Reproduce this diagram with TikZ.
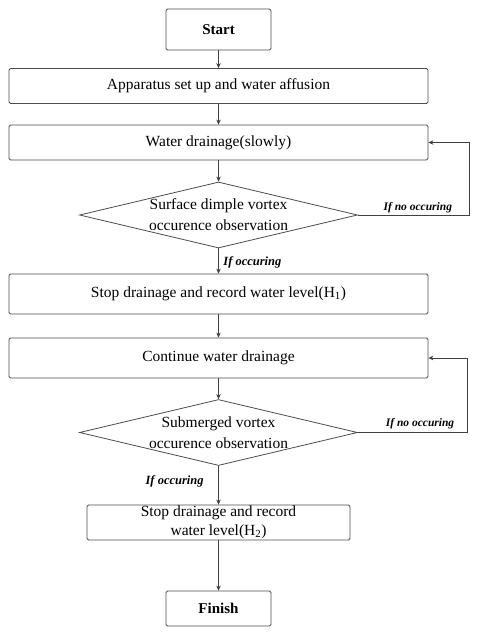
\documentclass[tikz,border=0pt]{standalone}
\usepackage{fontspec}
\setmainfont{Liberation Serif}
\usetikzlibrary{shapes.geometric,arrows.meta}

\tikzset{
  txt/.style={font=\fontsize{15.5}{21}\selectfont},
  box/.style={txt,draw=black!70,line width=0.8pt,rounded corners=1.5pt,align=center,inner sep=0pt},
  widebox/.style={box,minimum width=419pt,minimum height=35pt},
  endbox/.style={box,minimum width=105pt,font=\fontsize{15}{20}\selectfont\bfseries},
  decision/.style={txt,draw=black!70,line width=0.8pt,diamond,aspect=4.2,inner sep=0pt,
    minimum width=278pt,minimum height=66pt,align=center},
  flow/.style={draw=black!75,line width=0.8pt,-{Stealth[length=5pt,width=4.5pt]}},
  cond/.style={font=\fontsize{11.5}{13}\selectfont\bfseries\itshape,inner sep=1.5pt}
}

\begin{document}
\begin{tikzpicture}[x=1pt,y=-1pt]
        \useasboundingbox (0,0) rectangle (480,632);
        % boxes
        \node[endbox,minimum height=41pt] (start) at (218.5,29.5) {Start};
        \node[widebox] (setup) at (218.5,86) {Apparatus set up and water affusion};
        \node[widebox] (drain) at (218.5,142.5) {Water drainage(slowly)};
        \node[decision] (surf) at (218.5,215) {Surface dimple vortex\\occurence observation};
        \node[widebox,minimum height=40pt] (stopa) at (218.5,294) {Stop drainage and record water level(H\textsubscript{1})};
        \node[widebox,minimum height=40pt] (cont) at (218.5,358) {Continue water drainage};
        \node[decision] (sub) at (218.5,432.5) {Submerged vortex\\occurence observation};
        \node[box,minimum width=263pt,minimum height=35pt,font=\fontsize{15.5}{19}\selectfont] (stopb) at (218.5,522.5) {Stop drainage and record\\water level(H\textsubscript{2})};
        \node[endbox,minimum height=35pt] (finish) at (218.5,608.5) {Finish};
        % arrows
        \draw[flow] (start) -- (setup);
        \draw[flow] (setup) -- (drain);
        \draw[flow] (drain) -- (surf);
        \draw[flow] (surf) -- node[cond,right,pos=0.55,xshift=3pt,font=\fontsize{12.5}{14}\selectfont\bfseries\itshape] {If occuring} (stopa);
        \draw[flow] (surf.east) -- node[cond,above,pos=0.54] {If no occuring} ++(111,0) |- (drain.east);
        \draw[flow] (stopa) -- (cont);
        \draw[flow] (cont) -- (sub);
        \draw[flow] (sub.east) -- node[cond,above,pos=0.57,yshift=2pt] {If no occuring} ++(109,0) |- (cont.east);
        \draw[flow] (sub) -- node[cond,left,pos=0.41,xshift=-13pt,font=\fontsize{12.5}{14}\selectfont\bfseries\itshape] {If occuring} (stopb);
        \draw[flow] (stopb) -- (finish);
\end{tikzpicture}
\end{document}
